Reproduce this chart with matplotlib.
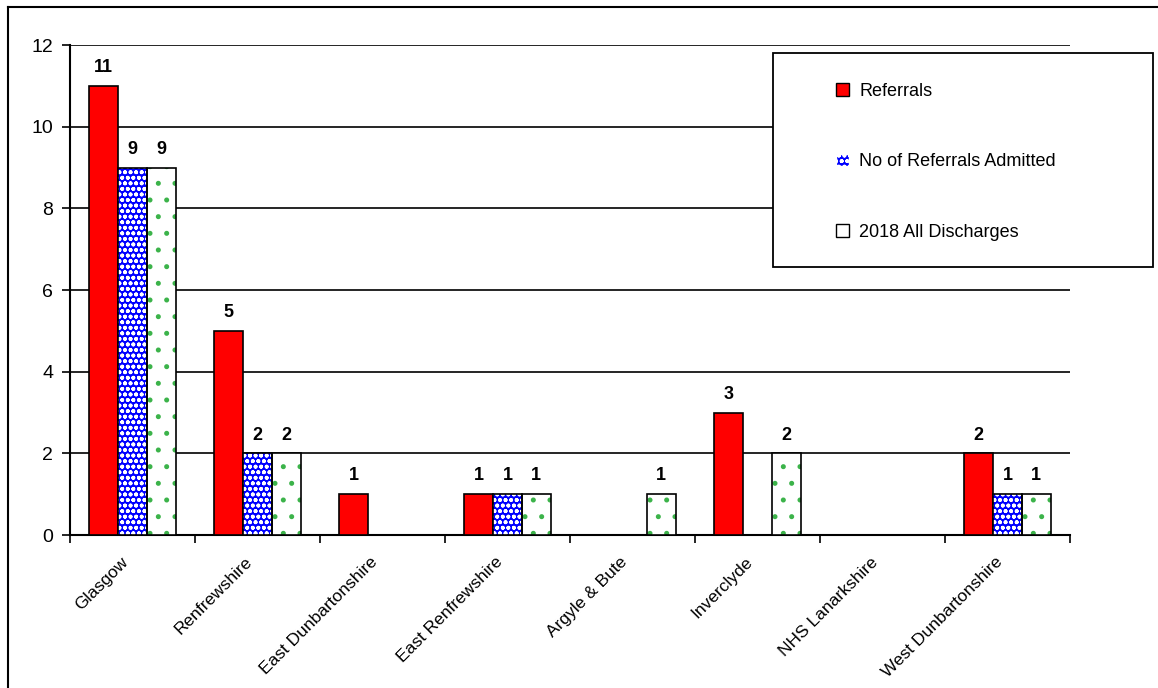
import numpy as np
import matplotlib
matplotlib.use("Agg")
import matplotlib.pyplot as plt
from matplotlib.patches import Patch, Rectangle
from matplotlib.lines import Line2D

plt.rcParams['font.family'] = ['Liberation Sans', 'DejaVu Sans']
plt.rcParams['hatch.linewidth'] = 1.2

areas = ['Glasgow', 'Renfrewshire', 'East Dunbartonshire', 'East Renfrewshire',
         'Argyle & Bute', 'Inverclyde', 'NHS Lanarkshire', 'West Dunbartonshire']
referrals = [11, 5, 1, 1, 0, 3, 0, 2]
admitted = [9, 2, 0, 1, 0, 0, 0, 1]
discharges = [9, 2, 0, 1, 1, 2, 0, 1]
series_names = ['Referrals', 'No of Referrals Admitted', '2018 All Discharges']

fig = plt.figure(figsize=(11.58, 6.88), dpi=100)
ax = fig.add_axes([70/1158, 1-535/688, 1000/1158, 490/688])

x = np.arange(len(areas)) + 0.5
w = 0.23

# red
ax.bar(x - w, referrals, w, color='#ff0000', edgecolor='black', linewidth=1.2, zorder=3)
# blue with white dots
ax.bar(x, admitted, w, color='#0000ff', edgecolor='white', hatch='ooo', linewidth=0, zorder=3)
ax.bar(x, admitted, w, fill=False, edgecolor='black', linewidth=1.2, zorder=4)
# white with green dots
ax.bar(x + w, discharges, w, color='white', edgecolor='#3cb34a', hatch='.', linewidth=0, zorder=3)
ax.bar(x + w, discharges, w, fill=False, edgecolor='black', linewidth=1.2, zorder=4)

for vals, off in [(referrals, -w), (admitted, 0), (discharges, w)]:
    for xi, v in zip(x, vals):
        if v > 0:
            ax.annotate(str(v), (xi + off, v), xytext=(0, 7), textcoords='offset points',
                        ha='center', va='bottom', fontsize=13, fontweight='bold', zorder=5)

ax.set_xlim(0, len(areas))
ax.set_ylim(0, 12)
ax.set_yticks(range(0, 13, 2))
ax.yaxis.grid(True, color='black', linewidth=1.2, zorder=0)
ax.set_axisbelow(True)
ax.set_xticks(range(len(areas) + 1))
ax.set_xticklabels([])
ax.set_xticks(x - 0.1, minor=True)
ax.set_xticklabels(areas, minor=True, rotation=45, ha='right', rotation_mode='anchor', fontsize=12.5)
ax.tick_params(axis='x', which='minor', length=0, pad=14)
ax.tick_params(axis='x', which='major', length=6, width=1.2)
ax.tick_params(axis='y', length=6, width=1.2, labelsize=14, pad=6)
for s in ['top', 'right']:
    ax.spines[s].set_visible(False)
for s in ['left', 'bottom']:
    ax.spines[s].set_linewidth(1.5)

# legend box
fig.add_artist(Rectangle((773/1158, 1-267/688), 380/1158, 214/688, transform=fig.transFigure,
                         facecolor='white', edgecolor='black', linewidth=1.3, zorder=5))
handles = [Patch(facecolor='#ff0000', edgecolor='black'),
           Patch(facecolor='#0000ff', edgecolor='white', hatch='ooo'),
           Patch(facecolor='white', edgecolor='black')]
leg = fig.legend(handles, series_names, loc='upper left',
                 bbox_to_anchor=(836/1158, 1-83/688), bbox_transform=fig.transFigure,
                 fontsize=13, frameon=False,
                 handlelength=0.7, handleheight=0.7, labelspacing=2.95,
                 borderpad=0, borderaxespad=0, handletextpad=0.6)
leg.set_zorder(6)
leg.set_in_layout(False)

# outer border (top & left only visible in the reference)
fig.add_artist(Line2D([8/1158, 1], [1-7/688, 1-7/688], transform=fig.transFigure, color='black', linewidth=1.5))
fig.add_artist(Line2D([8/1158, 8/1158], [0, 1-7/688], transform=fig.transFigure, color='black', linewidth=1.5))

plt.savefig('out.png', dpi=100)
